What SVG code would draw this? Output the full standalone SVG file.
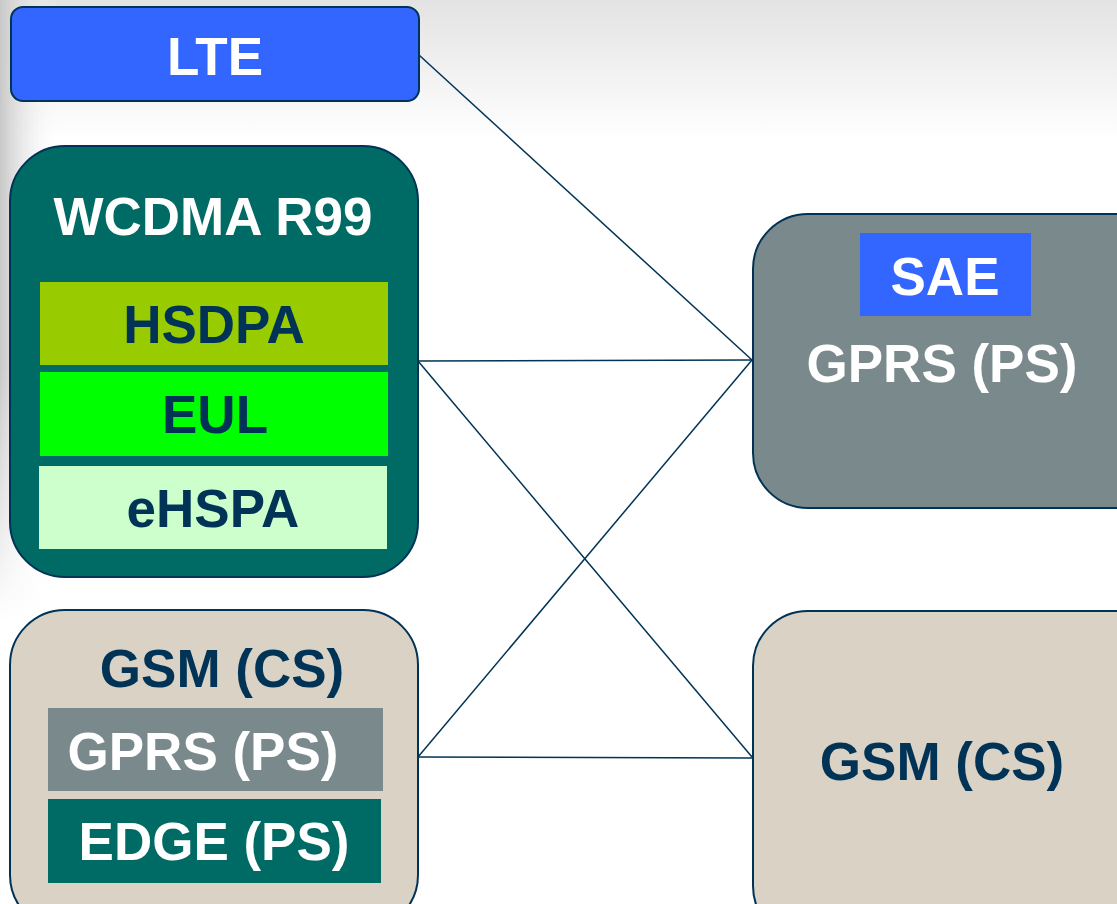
<svg xmlns="http://www.w3.org/2000/svg" width="1117" height="904" viewBox="0 0 1117 904">
  <defs>
    <linearGradient id="topShade" x1="0" y1="0" x2="0" y2="1">
      <stop offset="0" stop-color="#e3e3e3"/>
      <stop offset="1" stop-color="#ffffff"/>
    </linearGradient>
    <linearGradient id="leftShade" x1="0" y1="0" x2="1" y2="0">
      <stop offset="0" stop-color="#c8c8c8"/>
      <stop offset="1" stop-color="#ffffff" stop-opacity="0"/>
    </linearGradient>
    <linearGradient id="leftFade" x1="0" y1="0" x2="0" y2="1">
      <stop offset="0" stop-color="#fff"/>
      <stop offset="0.6" stop-color="#fff"/>
      <stop offset="1" stop-color="#000"/>
    </linearGradient>
    <mask id="leftMask">
      <rect x="0" y="0" width="60" height="620" fill="url(#leftFade)"/>
    </mask>
    <style>
      .label { font-family: "Liberation Sans", Arial, sans-serif; font-weight: bold; font-size: 53px; text-anchor: middle; }
      .light { fill: #ffffff; }
      .dark { fill: #003355; }
      .outline { stroke: #003355; stroke-width: 2; }
      .link { stroke: #003355; stroke-width: 1.5; fill: none; }
    </style>
  </defs>

  <!-- background -->
  <rect width="1117" height="904" fill="#ffffff"/>
  <rect x="0" y="0" width="1117" height="140" fill="url(#topShade)"/>
  <rect x="0" y="0" width="60" height="620" fill="url(#leftShade)" mask="url(#leftMask)"/>

  <!-- connectors -->
  <g id="connectors">
    <line class="link" x1="419" y1="55" x2="752" y2="360"/>
    <line class="link" x1="418" y1="361" x2="752" y2="360"/>
    <line class="link" x1="418" y1="361" x2="752" y2="757"/>
    <line class="link" x1="418" y1="757" x2="752" y2="360"/>
    <line class="link" x1="418" y1="757" x2="752" y2="758"/>
  </g>

  <g id="lte">
    <rect class="outline" x="11" y="7" width="408" height="94" rx="12" fill="#3366ff"/>
    <text class="label light" x="215" y="75">LTE</text>
  </g>

  <g id="wcdma">
    <rect class="outline" x="10" y="146" width="408" height="431" rx="55" fill="#006b64"/>
    <text class="label light" x="213" y="235">WCDMA R99</text>
    <rect x="40" y="282" width="348" height="83" fill="#99cc00"/>
    <text class="label dark" x="214" y="343">HSDPA</text>
    <rect x="40" y="372" width="348" height="84" fill="#00ff00"/>
    <text class="label dark" x="215" y="433">EUL</text>
    <rect x="39" y="466" width="348" height="83" fill="#ccffcc"/>
    <text class="label dark" x="213" y="527">eHSPA</text>
  </g>

  <g id="gsm-left">
    <rect class="outline" x="10" y="610" width="408" height="320" rx="55" fill="#d9d2c5"/>
    <text class="label dark" x="222" y="687">GSM (CS)</text>
    <rect x="48" y="708" width="335" height="83" fill="#7a8a8c"/>
    <text class="label light" x="203" y="770">GPRS (PS)</text>
    <rect x="48" y="799" width="333" height="84" fill="#006b64"/>
    <text class="label light" x="214" y="860">EDGE (PS)</text>
  </g>

  <g id="gprs-right">
    <rect class="outline" x="753" y="214" width="420" height="294" rx="55" fill="#7a8a8c"/>
    <rect x="860" y="233" width="171" height="83" fill="#3366ff"/>
    <text class="label light" x="945" y="295">SAE</text>
    <text class="label light" x="942" y="382">GPRS (PS)</text>
  </g>

  <g id="gsm-right">
    <rect class="outline" x="753" y="611" width="420" height="330" rx="55" fill="#d9d2c5"/>
    <text class="label dark" x="942" y="780">GSM (CS)</text>
  </g>
</svg>
